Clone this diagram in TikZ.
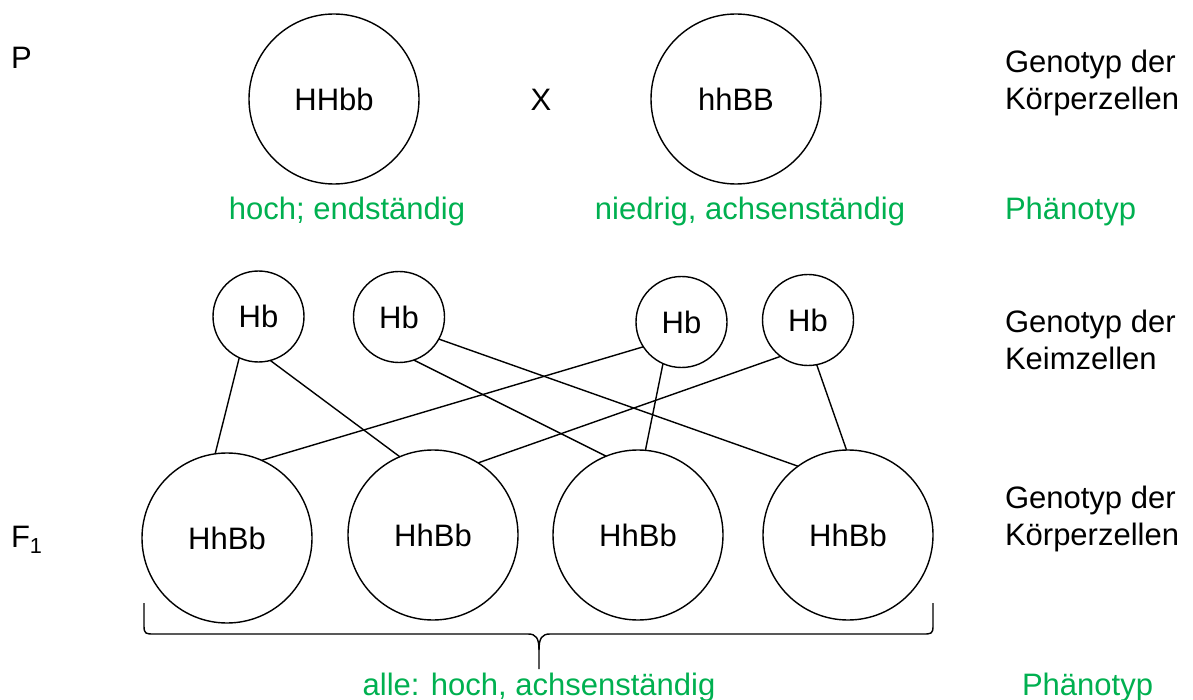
\documentclass[tikz,border=0pt]{standalone}
\usepackage{fontspec}
\setmainfont{Liberation Sans}
\definecolor{pgreen}{HTML}{00B050}
\begin{document}
\begin{tikzpicture}[x=1pt,y=-1pt,line width=1.4pt,
  every node/.style={font=\fontsize{31}{37}\selectfont,inner sep=0pt,outer sep=0pt},
  big/.style={circle,draw,minimum size=170pt},
  gam/.style={circle,draw,minimum size=91pt},
  lbl/.style={anchor=base west},
  ph/.style={anchor=base,text=pgreen},
  conn/.style={line width=1.4pt}]
\useasboundingbox (0,0) rectangle (1193,700);
% Parents
\node[lbl] (P) at (11,69) {P};
\node[big] (p1) at (334,99) {HHbb};
\node[big] (p2) at (736,99) {hhBB};
\node[anchor=base] (x) at (541,111) {X};
\node[ph] (ph1) at (347,220) {hoch; endständig};
\node[ph] (ph2) at (750,220) {niedrig, achsenständig};
% Gametes
\node[gam] (g1) at (258.5,316.5) {Hb};
\node[gam] (g2) at (399,317) {Hb};
\node[gam] (g3) at (681.5,322) {Hb};
\node[gam] (g4) at (808,320) {Hb};
% F1
\node[lbl] (F) at (11,547) {F\textsubscript{1}};
\node[big] (f1) at (227,538) {HhBb};
\node[big] (f2) at (433,535) {HhBb};
\node[big] (f3) at (638,535) {HhBb};
\node[big] (f4) at (848,535) {HhBb};
% Connectors
\draw[conn] (g1.245) -- (f1.98);
\draw[conn] (g1.285) -- (f2.113);
\draw[conn] (g2.289) -- (f3.112);
\draw[conn] (g2.331) -- (f4.126);
\draw[conn] (g3.213) -- (f1.66);
\draw[conn] (g3.246) -- (f3.85);
\draw[conn] (g4.233) -- (f2.58);
\draw[conn] (g4.281) -- (f4.91);
% Brace
\draw (144,603) -- (144,626) .. controls (144,634) and (146,634) .. (154,634)
  -- (528,634) .. controls (536,634) and (539,638) .. (539,650) -- (539,669);
\draw (539,650) .. controls (539,638) and (542,634) .. (550,634)
  -- (923,634) .. controls (931,634) and (933,634) .. (933,626) -- (933,603);
\node[ph] (all) at (539,695) {alle: hoch, achsenständig};
% Right column
\node[lbl] (r1a) at (1005,73) {Genotyp der};
\node[lbl] (r1b) at (1005,110) {Körperzellen};
\node[lbl,text=pgreen] (r2) at (1005,220) {Phänotyp};
\node[lbl] (r3a) at (1005,332) {Genotyp der};
\node[lbl] (r3b) at (1005,369) {Keimzellen};
\node[lbl] (r4a) at (1005,508) {Genotyp der};
\node[lbl] (r4b) at (1005,545) {Körperzellen};
\node[lbl,text=pgreen] (r5) at (1022,695) {Phänotyp};
\end{tikzpicture}
\end{document}
